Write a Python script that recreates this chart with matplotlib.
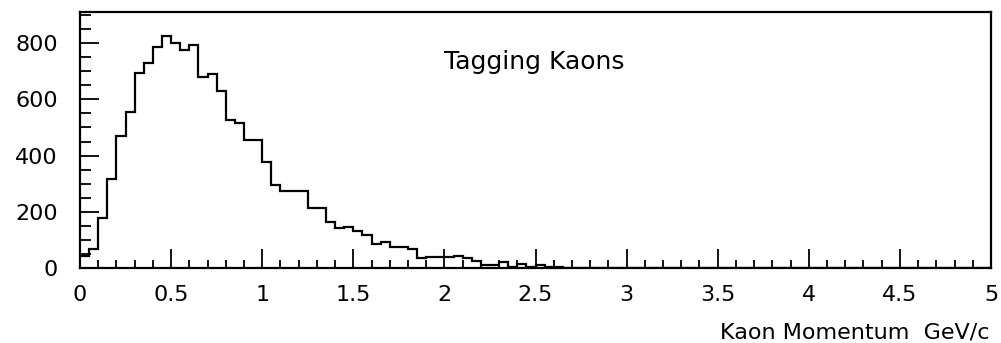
import numpy as np
import matplotlib.pyplot as plt
from matplotlib.ticker import MultipleLocator

# Kaon momentum spectrum, 100 bins of 0.05 GeV/c between 0 and 5
binWidth = 0.05
counts = [45, 70, 180, 318, 468, 555, 692, 730, 785, 826,
          800, 775, 794, 679, 691, 630, 525, 517, 456, 456,
          378, 296, 276, 276, 276, 215, 215, 166, 142, 146,
          132, 120, 88, 92, 77, 77, 69, 36, 41, 41,
          41, 45, 36, 26, 10, 10, 21, 6, 15, 6,
          10, 4, 3] + [0] * 47
yTicks = [0, 200, 400, 600, 800]
xTicks = [0, 0.5, 1, 1.5, 2, 2.5, 3, 3.5, 4, 4.5, 5]
xTickLabels = ["0", "0.5", "1", "1.5", "2", "2.5", "3", "3.5", "4", "4.5", "5"]
title = "Tagging Kaons"
xlabel = "Kaon Momentum  GeV/c"

edges = np.arange(len(counts) + 1) * binWidth

fig = plt.figure(figsize=(10.01, 3.43), dpi=100)
ax = fig.add_axes([80 / 1001, (343 - 268.3) / 343, 911 / 1001, 256.3 / 343])

ax.stairs(counts, edges, color="black", linewidth=1.6, baseline=None)
ax.set_xlim(0, 5)
ax.set_ylim(0, 910)

ax.set_xticks(xTicks)
ax.set_xticklabels(xTickLabels)
ax.set_yticks(yTicks)
ax.xaxis.set_minor_locator(MultipleLocator(0.1))
ax.yaxis.set_minor_locator(MultipleLocator(50))
ax.tick_params(axis="x", which="major", direction="in", length=14, width=1.3,
               pad=12, labelsize=16)
ax.tick_params(axis="x", which="minor", direction="in", length=6, width=1.3)
ax.tick_params(axis="y", which="major", direction="in", length=14, width=1.3,
               pad=16, labelsize=16)
ax.tick_params(axis="y", which="minor", direction="in", length=8, width=1.3)
for spine in ax.spines.values():
    spine.set_linewidth(1.6)

ax.text(0.40, 0.778, title, transform=ax.transAxes, fontsize=18,
        ha="left", va="baseline")
fig.text(990 / 1001, 1 - 339 / 343, xlabel, fontsize=16, ha="right", va="baseline")

fig.savefig("out.png", dpi=100)
